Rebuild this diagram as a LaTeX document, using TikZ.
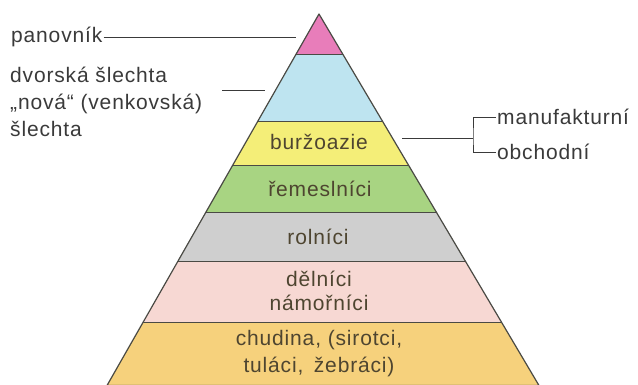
\documentclass[tikz,border=0pt]{standalone}
\usepackage{fontspec}
\setmainfont{Liberation Sans}[LetterSpace=4]
\definecolor{cApex}{HTML}{E87DBA}
\definecolor{cBlue}{HTML}{BEE4F0}
\definecolor{cYellow}{HTML}{F4EE78}
\definecolor{cGreen}{HTML}{A8D482}
\definecolor{cGray}{HTML}{CFCFCF}
\definecolor{cPink}{HTML}{F7D8D3}
\definecolor{cOrange}{HTML}{F6D17C}
\definecolor{ink}{HTML}{3A3A3A}
\definecolor{bandink}{HTML}{4E4530}
\definecolor{edge}{HTML}{4A4A44}
\begin{document}
\begin{tikzpicture}[x=1pt,y=-1pt,
  lbl/.style={anchor=base west,inner sep=0pt,text=ink,font=\fontsize{21}{27}\selectfont},
  band/.style={anchor=base,inner sep=0pt,text=bandink,font=\fontsize{21}{27}\selectfont},
  conn/.style={draw=ink,line width=0.9pt},
  divider/.style={draw=edge,line width=1pt}]
\useasboundingbox (0,0) rectangle (638,385);
% pyramid corners
\coordinate (A) at (319,14);
\coordinate (BL) at (107,385.5);
\coordinate (BR) at (539,385.5);
\begin{scope}
  \clip (A) -- (BL) -- (BR) -- cycle;
  \fill[cApex]   (0,0)   rectangle (638,55);
  \fill[cBlue]   (0,55)  rectangle (638,122);
  \fill[cYellow] (0,122) rectangle (638,166);
  \fill[cGreen]  (0,166) rectangle (638,213);
  \fill[cGray]   (0,213) rectangle (638,262);
  \fill[cPink]   (0,262) rectangle (638,322);
  \fill[cOrange] (0,322) rectangle (638,386);
  \foreach \yy in {55,122,166,213,262,322}
    \draw[divider] (0,\yy) -- (638,\yy);
\end{scope}
\draw[draw=edge,line width=1.2pt,line join=round] (A) -- (BL) -- (BR) -- cycle;
% band texts
\node[band] (bur) at (319,150) {buržoazie};
\node[band] (rem) at (320,197) {řemeslníci};
\node[band] (rol) at (318,245) {rolníci};
\node[band] (del) at (319,287) {dělníci};
\node[band] (nam) at (319,310) {námořníci};
\node[band] (chu) at (319,345) {chudina, (sirotci,};
\node[band] (tul) at (319,372) {tuláci,\hspace{0.5em}žebráci)};
% left labels
\node[lbl] (pan) at (11,43) {panovník};
\node[lbl] (dvo) at (10,83) {dvorská šlechta};
\node[lbl] (nov) at (10,110) {„nová“ (venkovská)};
\node[lbl] (sle) at (10,137) {šlechta};
\coordinate (p1) at (296,37);
\coordinate (s0) at (222,90);
\coordinate (s1) at (265,90);
\draw[conn] ([xshift=1pt]pan.east |- p1) -- (p1);
\draw[conn] (s0) -- (s1);
% right labels
\node[lbl] (man) at (497,125) {manufakturní};
\node[lbl] (obc) at (497,160) {obchodní};
\coordinate (b0) at (402,138);
\coordinate (j) at (473,138);
\draw[conn] (b0) -- (j);
\draw[conn] ([xshift=-1pt]man.west) -| (j) |- ([xshift=-1pt]obc.west);
\end{tikzpicture}
\end{document}
